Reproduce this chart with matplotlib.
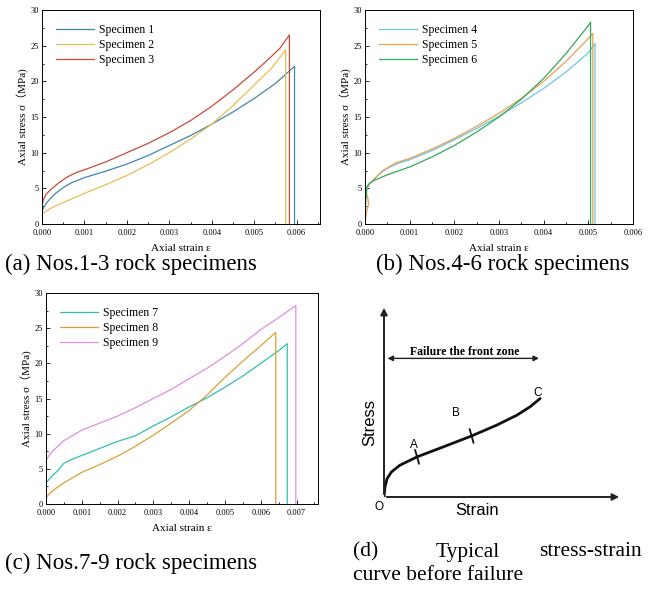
import numpy as np
import matplotlib.pyplot as plt
from matplotlib.ticker import MultipleLocator

plt.rcParams['font.family'] = ['Liberation Serif', 'Noto Sans CJK SC']

# ---- data ----
# (a) specimens 1-3
s1_x = [0, 0, 0.00005, 0.0001, 0.0002, 0.0003, 0.0005, 0.0007, 0.001, 0.0015, 0.002,
        0.0025, 0.003, 0.0035, 0.004, 0.0045, 0.005, 0.0055, 0.00595, 0.00595]
s1_y = [0, 1.8, 2.4, 2.9, 3.6, 4.2, 5.1, 5.8, 6.5, 7.4, 8.4,
        9.6, 11.0, 12.4, 14.0, 15.7, 17.6, 19.7, 22.1, 0]
s2_x = [0, 0, 0.0001, 0.0002, 0.0005, 0.001, 0.0015, 0.002, 0.0025, 0.003, 0.0035,
        0.004, 0.0045, 0.005, 0.0054, 0.00574, 0.00574]
s2_y = [0, 1.4, 1.8, 2.2, 3.0, 4.3, 5.5, 6.8, 8.3, 10.0, 11.9,
        14.0, 16.6, 19.5, 21.8, 24.4, 0]
s3_x = [0, 0, 0.00003, 0.0001, 0.0002, 0.0004, 0.0006, 0.0008, 0.001, 0.0015, 0.002,
        0.0025, 0.003, 0.0035, 0.004, 0.0045, 0.005, 0.0053, 0.0056, 0.00583, 0.00583]
s3_y = [0, 2.5, 3.4, 4.2, 4.8, 5.8, 6.6, 7.2, 7.6, 8.7, 10.0,
        11.3, 12.8, 14.5, 16.5, 18.8, 21.3, 22.9, 24.6, 26.5, 0]

# (b) specimens 4-6
s4_x = [0, 0.00002, 0.00005, 0.0001, 0.0002, 0.0003, 0.0005, 0.0007, 0.001, 0.0015, 0.002,
        0.0025, 0.003, 0.0035, 0.004, 0.0045, 0.005, 0.00515, 0.00515]
s4_y = [0, 3.5, 5.0, 5.6, 6.2, 6.9, 7.8, 8.4, 9.0, 10.3, 11.8,
        13.4, 15.1, 17.0, 19.0, 21.3, 24.0, 25.3, 0]
s5_x = [0, 0.00003, 0.00008, 0.00006, 0.00002, 0.00005, 0.0001, 0.0002, 0.0004, 0.0007, 0.001,
        0.0015, 0.002, 0.0025, 0.003, 0.0035, 0.004, 0.0045, 0.005, 0.0051, 0.0051]
s5_y = [0, 1.5, 2.8, 3.8, 4.5, 5.2, 5.6, 6.3, 7.5, 8.6, 9.2,
        10.5, 12.0, 13.7, 15.5, 17.6, 20.0, 22.8, 26.0, 26.7, 0]
s6_x = [0, 0.00001, 0.00004, 0.0001, 0.0002, 0.0005, 0.001, 0.0015, 0.002, 0.0025, 0.003,
        0.0035, 0.004, 0.0045, 0.005, 0.00505, 0.00505]
s6_y = [0, 3.0, 5.2, 5.7, 6.1, 6.9, 8.0, 9.4, 11.0, 12.9, 15.0,
        17.5, 20.4, 23.9, 27.8, 28.3, 0]

# (c) specimens 7-9
s7_x = [0, 0, 0.0001, 0.0003, 0.0005, 0.0007, 0.001, 0.0015, 0.002, 0.0025, 0.003,
        0.0035, 0.004, 0.0045, 0.005, 0.0055, 0.006, 0.0065, 0.00674, 0.00674]
s7_y = [0, 3.0, 3.6, 4.6, 5.8, 6.3, 6.9, 7.9, 8.9, 9.7, 11.1,
        12.4, 13.8, 15.1, 16.6, 18.2, 20.0, 21.8, 22.8, 0]
s8_x = [0, 0, 0.0001, 0.0003, 0.0005, 0.001, 0.0015, 0.002, 0.0025, 0.003, 0.0035,
        0.004, 0.0045, 0.005, 0.0055, 0.006, 0.00642, 0.00642]
s8_y = [0, 0.9, 1.5, 2.3, 3.0, 4.5, 5.6, 6.8, 8.2, 9.8, 11.5,
        13.3, 15.5, 18.0, 20.3, 22.5, 24.4, 0]
s9_x = [0, 0, 0.0001, 0.0002, 0.0005, 0.0008, 0.001, 0.0015, 0.002, 0.0025, 0.003,
        0.0035, 0.004, 0.0045, 0.005, 0.0055, 0.006, 0.0065, 0.00698, 0.00698]
s9_y = [0, 6.2, 7.0, 7.6, 9.0, 9.9, 10.5, 11.5, 12.5, 13.7, 15.0,
        16.3, 17.8, 19.3, 21.0, 22.8, 24.8, 26.5, 28.2, 0]

# (d) schematic curve (normalised units)
d_x = [0, 0.004, 0.013, 0.031, 0.066, 0.139, 0.249, 0.368, 0.473, 0.558, 0.614, 0.656]
d_y = [0, 0.052, 0.096, 0.13, 0.165, 0.209, 0.261, 0.318, 0.374, 0.426, 0.47, 0.513]

captions = ['(a) Nos.1-3 rock specimens', '(b) Nos.4-6 rock specimens',
            '(c) Nos.7-9 rock specimens']

fig = plt.figure(figsize=(6.53, 5.99), dpi=100)
W, H = 653, 599


def add_ax(l, t, r, b):
    return fig.add_axes([l / W, 1 - b / H, (r - l) / W, (b - t) / H])


def style(ax, xmax):
    ax.set_xlim(0, xmax)
    ax.set_ylim(0, 30)
    ax.xaxis.set_major_locator(MultipleLocator(0.001))
    ax.xaxis.set_minor_locator(MultipleLocator(0.0005))
    ax.yaxis.set_major_locator(MultipleLocator(5))
    ax.yaxis.set_minor_locator(MultipleLocator(2.5))
    ax.xaxis.set_major_formatter(lambda v, p: f'{v:.3f}')
    ax.tick_params(which='both', direction='in', labelsize=6, width=0.6, pad=2)
    ax.tick_params(axis='x', pad=3.5)
    ax.tick_params(which='major', length=3)
    ax.tick_params(which='minor', length=1.5)
    for sp in ax.spines.values():
        sp.set_linewidth(0.7)
    ax.set_xlabel('Axial strain ε', fontsize=8, labelpad=5)
    ax.set_ylabel('Axial stress σ（MPa)', fontsize=8, labelpad=2)
    ax.legend(loc='upper left', frameon=False, fontsize=8.5, handlelength=3.2,
              borderaxespad=0.8, labelspacing=0.25, handletextpad=0.4)


ax1 = add_ax(42, 10, 320, 224)
ax1.plot(s1_x, s1_y, color='#3f86ad', lw=0.9, label='Specimen 1')
ax1.plot(s2_x, s2_y, color='#ecbc55', lw=0.9, label='Specimen 2')
ax1.plot(s3_x, s3_y, color='#c84b3a', lw=0.9, label='Specimen 3')
style(ax1, 0.00655)

ax2 = add_ax(365, 10, 633, 224)
ax2.plot(s4_x, s4_y, color='#6fc6e2', lw=0.9, label='Specimen 4')
ax2.plot(s5_x, s5_y, color='#e7a04e', lw=0.9, label='Specimen 5')
ax2.plot(s6_x, s6_y, color='#36a85a', lw=0.9, label='Specimen 6')
style(ax2, 0.006)

ax3 = add_ax(46, 293, 318, 504)
ax3.plot(s7_x, s7_y, color='#2fbfb2', lw=0.9, label='Specimen 7')
ax3.plot(s8_x, s8_y, color='#d9a034', lw=0.9, label='Specimen 8')
ax3.plot(s9_x, s9_y, color='#e28de2', lw=0.9, label='Specimen 9')
style(ax3, 0.0076)

# (d) schematic
ax4 = add_ax(384, 305, 622, 497)
ax4.set_xlim(0, 1)
ax4.set_ylim(0, 1)
ax4.axis('off')
arr = dict(arrowstyle='-|>', lw=1.4, color='#222222', mutation_scale=10)
ax4.annotate('', xy=(1, 0), xytext=(0, 0), arrowprops=arr, annotation_clip=False)
ax4.annotate('', xy=(0, 1), xytext=(0, 0), arrowprops=arr, annotation_clip=False)
ax4.plot(d_x, d_y, color='#111111', lw=2.0, solid_capstyle='round')
for i in (5, 7):
    ax4.plot([d_x[i] + 0.008, d_x[i] - 0.008], [d_y[i] - 0.035, d_y[i] + 0.035],
             color='#111111', lw=1.3)
sans = ['Liberation Sans']
ax4.text(d_x[5] - 0.013, d_y[5] + 0.06, 'A', family=sans, fontsize=8.5, ha='center', va='center')
ax4.text(0.302, 0.438, 'B', family=sans, fontsize=8.5, ha='center', va='center')
ax4.text(d_x[-1] - 0.01, d_y[-1] + 0.03, 'C', family=sans, fontsize=8.5, ha='center', va='center')
ax4.text(-0.02, -0.05, 'O', family=sans, fontsize=8.5, ha='center', va='center')
ax4.text(0.393, -0.07, 'Strain', family=sans, fontsize=12, ha='center', va='center')
ax4.text(-0.06, 0.39, 'Stress', family=sans, fontsize=12, ha='center', va='center', rotation=90)
ax4.annotate('', xy=(0.663, 0.722), xytext=(0.003, 0.722),
             arrowprops=dict(arrowstyle='<|-|>', lw=1.0, color='#222222', mutation_scale=8))
ax4.text(0.34, 0.757, 'Failure the front zone', fontsize=8.5, weight='bold',
         ha='center', va='center')

# captions
cap = dict(fontsize=16.5, va='center')
fig.text(5 / W, 1 - 264 / H, captions[0], ha='left', **cap)
fig.text(376 / W, 1 - 264 / H, captions[1], ha='left', **cap)
fig.text(5 / W, 1 - 563 / H, captions[2], ha='left', **cap)
cap_d = dict(fontsize=15.5, va='center')
fig.text(353 / W, 1 - 552 / H, '(d)', ha='left', **cap_d)
fig.text(468 / W, 1 - 552 / H, 'Typical', ha='center', **cap_d)
fig.text(642 / W, 1 - 552 / H, 'stress-strain', ha='right', **cap_d)
fig.text(353 / W, 1 - 576 / H, 'curve before failure', ha='left', **cap_d)

fig.savefig('out.png', dpi=100)
